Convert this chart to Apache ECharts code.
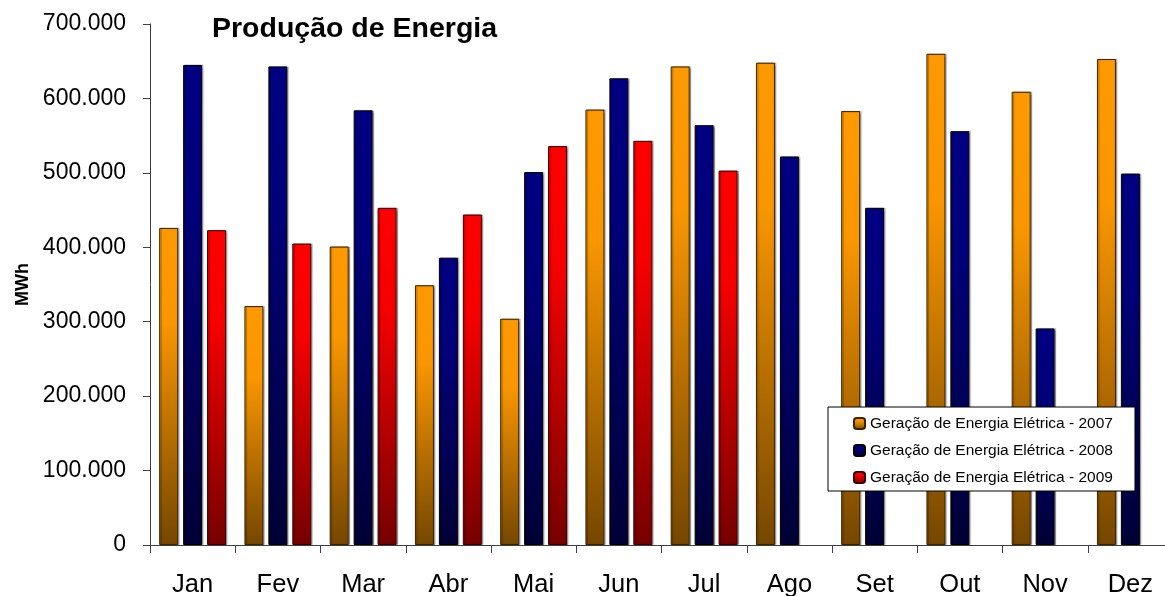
<!DOCTYPE html>
<html>
<head>
<meta charset="utf-8">
<title>Produção de Energia</title>
<script src="https://cdn.jsdelivr.net/npm/echarts@6/dist/echarts.min.js"></script>
<style>
  html, body { margin: 0; padding: 0; background: #fff; }
  #main { width: 1165px; height: 596px; }
</style>
</head>
<body>
<div id="main"></div>
<script>
// meses
const months = ['Jan', 'Fev', 'Mar', 'Abr', 'Mai', 'Jun', 'Jul', 'Ago', 'Set', 'Out', 'Nov', 'Dez'];

// geração em MWh
const ger2007 = [426000, 321000, 401000, 349000, 304000, 585000, 643000, 648000, 583000, 660000, 609000, 653000];
const ger2008 = [645000, 643000, 584000, 386000, 501000, 627000, 564000, 522000, 453000, 556000, 291000, 499000];
const ger2009 = [423000, 405000, 453000, 444000, 536000, 543000, 503000, null, null, null, null, null];

const seriesNames = [
  'Geração de Energia Elétrica - 2007',
  'Geração de Energia Elétrica - 2008',
  'Geração de Energia Elétrica - 2009'
];

const sans = '"Liberation Sans", Arial, sans-serif';

var myChart = echarts.init(document.getElementById('main'));

function grad(top, mid, bottom) {
  return new echarts.graphic.LinearGradient(0, 0, 0, 1, [
    {offset: 0, color: top},
    {offset: 0.3, color: mid},
    {offset: 1, color: bottom}
  ]);
}

// 700000 -> '700.000'
function fmt(v) {
  if (v === 0) return '0';
  return String(v).replace(/\B(?=(\d{3})+(?!\d))/g, '.');
}

function barSeries(name, data, color, border) {
  return {
    name: name,
    type: 'bar',
    data: data,
    barWidth: 19,
    barGap: '26%',
    itemStyle: {
      color: color,
      borderColor: border,
      borderWidth: 1,
      shadowColor: 'rgba(0,0,0,0.3)',
      shadowBlur: 1,
      shadowOffsetX: 1.5,
      shadowOffsetY: 0
    }
  };
}

let option = {
  animation: false,
  title: {
    text: 'Produção de Energia',
    left: 207,
    top: 10,
    textStyle: {
      fontFamily: sans,
      fontWeight: 'bold',
      fontSize: 28.5,
      color: '#000'
    }
  },
  legend: {
    orient: 'vertical',
    left: 828,
    top: 407,
    backgroundColor: '#fff',
    borderColor: '#000',
    borderWidth: 1,
    borderRadius: 0,
    padding: [8, 22, 5, 25],
    itemWidth: 11,
    itemHeight: 11,
    itemGap: 10,
    itemStyle: {shadowBlur: 0, shadowOffsetX: 0},
    textStyle: {
      fontFamily: sans,
      fontSize: 15.5,
      lineHeight: 17,
      color: '#000'
    },
    data: seriesNames
  },
  grid: {
    left: 150,
    width: 1023,
    top: 24,
    height: 521,
    outerBoundsMode: 'none',
    containLabel: false
  },
  xAxis: {
    type: 'category',
    data: months,
    axisLine: {lineStyle: {color: '#404040', width: 1}},
    axisTick: {show: true, length: 8, lineStyle: {color: '#404040'}},
    axisLabel: {
      fontFamily: sans,
      fontSize: 25.5,
      color: '#000',
      margin: 27
    }
  },
  yAxis: {
    type: 'value',
    min: 0,
    max: 700000,
    interval: 100000,
    name: 'MWh',
    nameLocation: 'middle',
    nameRotate: 90,
    nameGap: 116,
    nameTextStyle: {
      fontFamily: sans,
      fontWeight: 'bold',
      fontSize: 18,
      color: '#000'
    },
    axisLine: {show: true, lineStyle: {color: '#404040', width: 1}},
    axisTick: {show: true, length: 7, lineStyle: {color: '#404040'}},
    splitLine: {show: false},
    axisLabel: {
      fontFamily: sans,
      fontSize: 23,
      color: '#000',
      margin: 24,
      formatter: fmt
    }
  },
  series: [
    barSeries(seriesNames[0], ger2007, grad('#FF9900', '#F99600', '#764700'), '#3a2400'),
    barSeries(seriesNames[1], ger2008, grad('#000082', '#00007A', '#000036'), '#000000'),
    barSeries(seriesNames[2], ger2009, grad('#FF0000', '#F60000', '#760000'), '#3a0000')
  ]
};

option && myChart.setOption(option);
</script>
</body>
</html>
